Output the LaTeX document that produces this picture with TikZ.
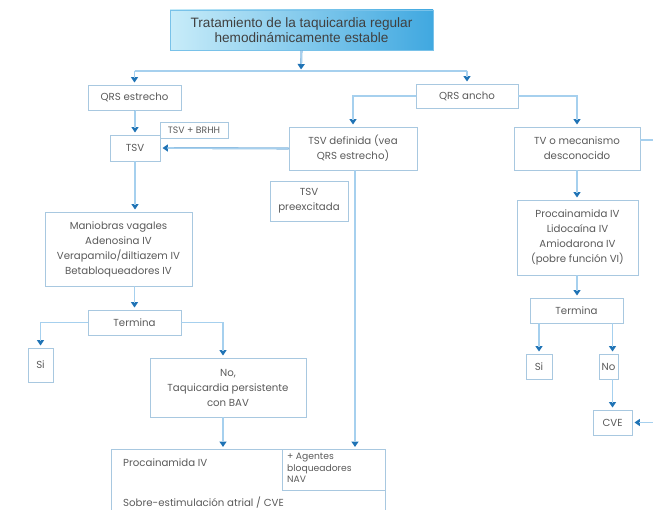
\documentclass[tikz,border=0pt]{standalone}
\usepackage{fontspec}
\setmainfont{Poppins}
\newfontfamily\titlefont{Liberation Sans}
\usetikzlibrary{arrows.meta}
\definecolor{boxc}{HTML}{A8C8E0}
\definecolor{linec}{HTML}{A6D0EE}
\definecolor{tipc}{HTML}{1F73B5}
\definecolor{txtc}{HTML}{5A5A5A}
\definecolor{titleL}{HTML}{C8ECF9}
\definecolor{titleR}{HTML}{40A8E0}
\tikzset{
  box/.style={draw=boxc, line width=0.9pt, text=txtc, align=center, inner sep=0pt,
    font=\fontsize{10.2}{15}\selectfont},
  label/.style={text=txtc, inner sep=0pt, font=\fontsize{10.2}{15}\selectfont},
  conn/.style={draw=linec, line width=1.6pt},
  % dark tip drawn with the path, then the shaft repainted in the light line colour
  arr/.style={draw=tipc, line width=1.6pt, -{Triangle[width=7pt,length=5.5pt]},
    shorten >=2pt, postaction={draw=linec, -, shorten >=7pt}},
}
\begin{document}
\begin{tikzpicture}[x=1pt,y=-1pt]
\useasboundingbox (0,0) rectangle (653,510);
\clip (0,0) rectangle (653,510);

% title
\node[draw=titleR!70, line width=0.6pt, left color=titleL, right color=titleR,
  minimum width=263pt, minimum height=40pt, align=center, inner sep=0pt,
  font=\titlefont\fontsize{13.6}{15}\selectfont, text=black!75] (title) at (301.5,30)
  {Tratamiento de la taquicardia regular\\hemodinámicamente estable};

% left branch
\node[box, minimum width=93pt, minimum height=25pt] (qrsE) at (134.5,97.5) {QRS estrecho};
\node[box, minimum width=50pt, minimum height=26pt] (tsv) at (135,148) {TSV};
\node[box, minimum width=68pt, minimum height=16pt, font=\fontsize{9.3}{11}\selectfont] (brhh) at (194,130) {TSV + BRHH};
\node[box, minimum width=147pt, minimum height=74pt] (mani) at (118.5,249)
  {Maniobras vagales\\Adenosina IV\\Verapamilo/diltiazem IV\\Betabloqueadores IV};
\node[box, minimum width=93pt, minimum height=25pt] (termL) at (134.5,322.5) {Termina};
\node[box, minimum width=25pt, minimum height=34pt] (siL) at (40.5,365) {Si};
\node[box, minimum width=156pt, minimum height=59pt] (noL) at (228,387.5)
  {No,\\Taquicardia persistente\\con BAV};
\node[box, minimum width=274pt, minimum height=90pt, anchor=north west] (proc) at (111,449) {};
\node[label, anchor=west] (procA) at (123,463) {Procainamida IV};
\node[label, anchor=west] (procB) at (123,503) {Sobre-estimulación atrial / CVE};
\node[box, minimum width=103pt, minimum height=41pt, anchor=north east] (agen) at (proc.north east) {};
\node[label, anchor=north west, align=left, font=\fontsize{9.2}{11.5}\selectfont] (agenT) at (287,453)
  {+ Agentes\\bloqueadores\\NAV};

% wide QRS branch
\node[box, minimum width=102pt, minimum height=24pt] (qrsA) at (467,96) {QRS ancho};
\node[box, minimum width=128pt, minimum height=43pt] (tsvdef) at (353,148.5)
  {TSV definida (vea\\QRS estrecho)};
\node[box, minimum width=78pt, minimum height=40pt] (preex) at (309,201) {TSV\\preexcitada};
\node[box, minimum width=126pt, minimum height=43pt] (tv) at (577,148.5)
  {TV o mecanismo\\desconocido};
\node[box, minimum width=121pt, minimum height=75pt] (procR) at (577.5,237.5)
  {Procainamida IV\\Lidocaína IV\\Amiodarona IV\\(pobre función VI)};
\node[box, minimum width=93pt, minimum height=25pt] (termR) at (576.5,310.5) {Termina};
\node[box, minimum width=26pt, minimum height=25pt] (siR) at (539,366.5) {Si};
\node[box, minimum width=19pt, minimum height=25pt] (noR) at (608.5,366.5) {No};
\node[box, minimum width=39pt, minimum height=25pt] (cve) at (612.5,422.5) {CVE};

% connectors
\coordinate (split) at (301,71);
\coordinate (tvout) at (653,140);
\coordinate (cvein) at (653,422.5);
\draw[arr, shorten >=1.5pt] (title.south) -- (split);
\draw[conn] (qrsE.north |- split) -- (split -| qrsA.north);
\draw[arr] (qrsE.north |- split) -- (qrsE.north);
\draw[arr] (qrsA.north |- split) -- (qrsA.north);
\draw[arr] (qrsE.south) -- (qrsE.south -| tsv.north) -- (tsv.north);
\draw[arr] (qrsA.west) -| (tsvdef.north);
\draw[arr] (qrsA.east) -| (tv.north);
\draw[arr] (tsvdef.west) -- (tsv.east);
\draw[arr] (tsv.south) -- (tsv.south |- mani.north);
\draw[arr] (termL.north |- mani.south) -- (termL.north);
\draw[arr] (termL.west) -| (siL.north);
\draw[arr] (termL.east) -| ([xshift=-5pt]noL.north);
\draw[arr] ([xshift=-5pt]noL.south) -- ([xshift=-5pt]noL.south |- proc.north);
\draw[arr] ([xshift=2pt]tsvdef.south) -- ([xshift=2pt]tsvdef.south |- agen.north);
\draw[arr] (tv.south) -- (procR.north -| tv.south);
\draw[arr] (procR.south -| tv.south) -- (termR.north -| tv.south);
\draw[arr] (termR.south -| siR.north) -- (siR.north);
\draw[arr] ([xshift=4pt]termR.south -| noR.north) -- ([xshift=4pt]noR.north);
\draw[arr] ([xshift=4pt]noR.south) -- (cve.north);
\draw[conn] (tv.east |- tvout) -- (tvout);
\draw[arr] (cvein) -- (cve.east);
\end{tikzpicture}
\end{document}
